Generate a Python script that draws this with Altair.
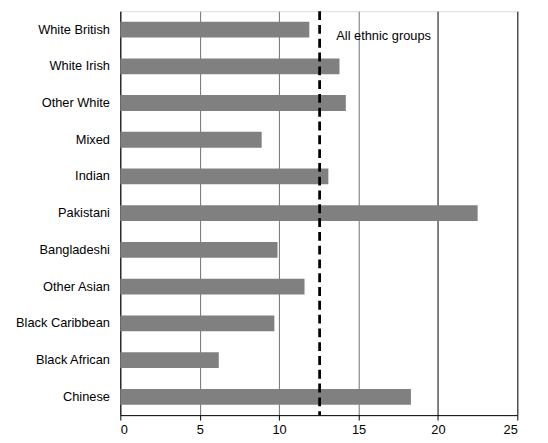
import altair as alt
import pandas as pd

groups = ["White British", "White Irish", "Other White", "Mixed", "Indian",
          "Pakistani", "Bangladeshi", "Other Asian", "Black Caribbean",
          "Black African", "Chinese"]
values = [11.9, 13.8, 14.2, 8.9, 13.1, 22.5, 9.9, 11.6, 9.7, 6.2, 18.3]
overall = 12.55
overall_label = "All ethnic groups"
label_x = 13.6

df = pd.DataFrame({"group": groups, "value": values})
ref = pd.DataFrame({"value": [overall]})
lab = pd.DataFrame({"x": [label_x], "group": [groups[0]], "text": [overall_label]})

FONT = "Liberation Sans"

x_scale = alt.Scale(domain=[0, 25], nice=False, zero=True)
y_scale = alt.Scale(domain=groups, paddingInner=0.57, paddingOuter=0.285)

bars = alt.Chart(df).mark_bar(color="#808080").encode(
    x=alt.X("value:Q", scale=x_scale,
            axis=alt.Axis(values=[0, 5, 10, 15, 20, 25], title=None,
                          grid=True,
                          gridColor=alt.condition("datum.value >= 20", alt.value("#000000"), alt.value("#707070")),
                          gridWidth=1,
                          domainColor="#000000", tickColor="#000000",
                          tickSize=5, labelPadding=4,
                          labelFont=FONT, labelFontSize=13, labelColor="#000000")),
    y=alt.Y("group:N", scale=y_scale, sort=groups,
            axis=alt.Axis(title=None, ticks=False, domainColor="#000000",
                          labelPadding=11, labelFont=FONT, labelFontSize=13,
                          labelColor="#000000")),
)

rule = alt.Chart(ref).mark_rule(color="#000000", strokeWidth=2.8, strokeDash=[9, 5]).encode(
    x=alt.X("value:Q", scale=x_scale)
)

text = alt.Chart(lab).mark_text(align="left", baseline="middle", dy=7,
                                font=FONT, fontSize=13, color="#000000").encode(
    x=alt.X("x:Q", scale=x_scale),
    y=alt.Y("group:N", scale=y_scale, sort=groups),
    text="text:N",
)

chart = alt.layer(bars, rule, text).properties(
    width=403, height=410,
    autosize=alt.AutoSizeParams(type="none"),
    padding={"left": 114, "top": 0, "right": 23, "bottom": 24},
).configure_view(stroke="#606060", strokeWidth=1).configure(background="white")

chart.save("out.html", embed_options={"renderer": "svg", "actions": False})
